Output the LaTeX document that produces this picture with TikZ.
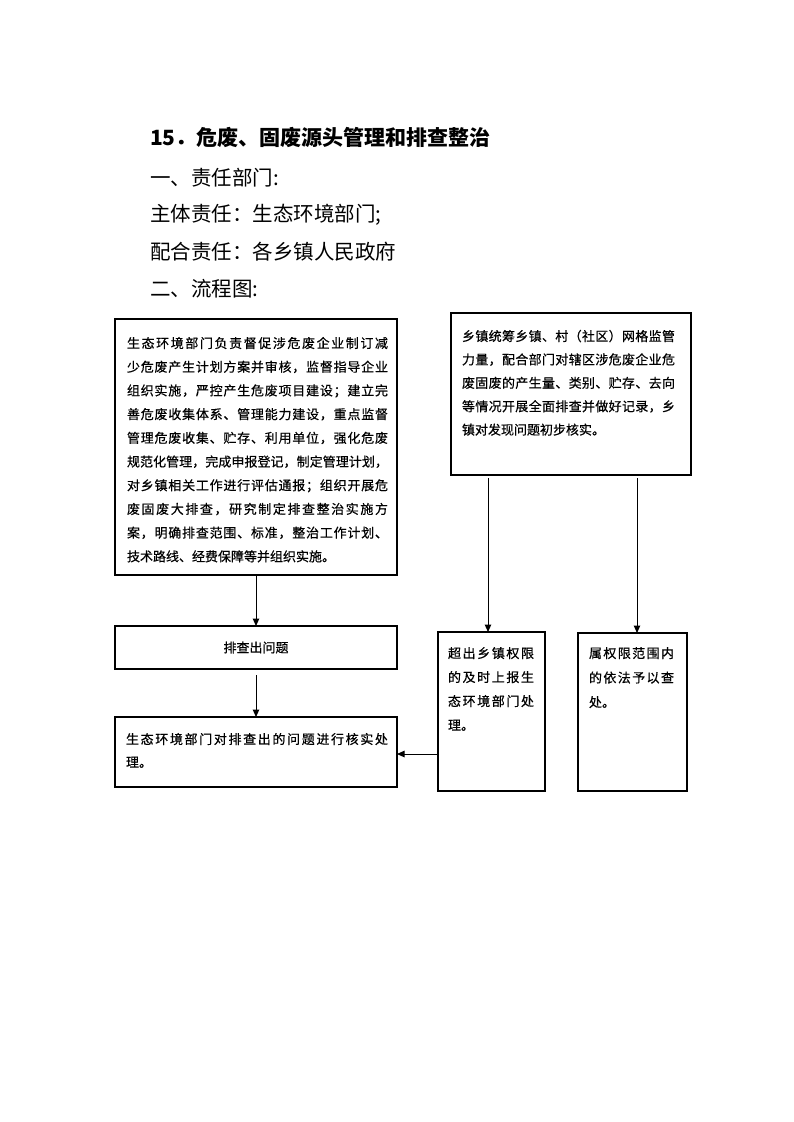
\documentclass[tikz,border=0pt]{standalone}
\usepackage{fontspec}
\setmainfont{Noto Sans CJK SC}
\newfontfamily\boxfont{Noto Sans CJK SC}[FakeBold=0.5]
\usetikzlibrary{arrows.meta}
\def\spreadEnd{SPREADEND}
\newcommand\spreadln[2]{\hbox to #1{\spreadA#2\spreadEnd}}
\def\spreadA#1{#1\spreadB}
\def\spreadB#1{\ifx#1\spreadEnd\else\hfil#1\expandafter\spreadB\fi}
\begin{document}
\begin{tikzpicture}[x=1pt,y=-1pt,
  box/.style={draw=black,line width=1.2pt,inner sep=0pt,outer sep=0pt,anchor=north west},
  txt/.style={inner sep=0pt,outer sep=0pt,anchor=base west},
  arr/.style={draw=black,line width=1pt,-{Triangle[length=7.5pt,width=6.5pt]}},
  head/.style={inner sep=0pt,outer sep=0pt,anchor=base west}]
\useasboundingbox[fill=white] (0,0) rectangle (794,1122);

% headings
\node[head,font=\fontsize{21pt}{24pt}\selectfont\bfseries] (t0) at (150,145) {15．危废、固废源头管理和排查整治};
\node[head,font=\fontsize{20.5pt}{24pt}\selectfont] (t1) at (150,185.6) {一、责任部门:};
\node[head,font=\fontsize{20.5pt}{24pt}\selectfont] (t2) at (150,221.6) {主体责任：生态环境部门;};
\node[head,font=\fontsize{20.5pt}{24pt}\selectfont] (t3) at (150,259.6) {配合责任：各乡镇人民政府};
\node[head,font=\fontsize{20.5pt}{24pt}\selectfont] (t4) at (150,296.6) {二、流程图:};

% boxes
\node[box,minimum width=282pt,minimum height=256pt] (A) at (115,319) {};
\node[box,minimum width=240pt,minimum height=162pt] (B) at (451,313) {};
\node[box,minimum width=282pt,minimum height=43pt,font=\boxfont\fontsize{13pt}{16pt}\selectfont] (P) at (115,626) {排查出问题};
\node[box,minimum width=282pt,minimum height=70pt] (C) at (115,717) {};
\node[box,minimum width=107pt,minimum height=159pt] (D) at (438,632) {};
\node[box,minimum width=109pt,minimum height=158pt] (E) at (578,633) {};

% box texts
\node[txt] (ta) at (127,348) {\parbox[t]{261pt}{\boxfont\fontsize{13pt}{23.7pt}\selectfont
\spreadln{261pt}{生态环境部门负责督促涉危废企业制订减}
\spreadln{261pt}{少危废产生计划方案并审核，监督指导企业}
\spreadln{261pt}{组织实施，严控产生危废项目建设；建立完}
\spreadln{261pt}{善危废收集体系、管理能力建设，重点监督}
\spreadln{261pt}{管理危废收集、贮存、利用单位，强化危废}
\spreadln{261pt}{规范化管理，完成申报登记，制定管理计划，}
\spreadln{261pt}{对乡镇相关工作进行评估通报；组织开展危}
\spreadln{261pt}{废固废大排查，研究制定排查整治实施方}
\spreadln{261pt}{案，明确排查范围、标准，整治工作计划、}
\hbox{技术路线、经费保障等并组织实施。}}};

\node[txt] (tb) at (462,341) {\parbox[t]{213pt}{\boxfont\fontsize{13pt}{23.4pt}\selectfont
\spreadln{213pt}{乡镇统筹乡镇、村（社区）网格监管}
\spreadln{213pt}{力量，配合部门对辖区涉危废企业危}
\spreadln{213pt}{废固废的产生量、类别、贮存、去向}
\spreadln{213pt}{等情况开展全面排查并做好记录，乡}
\hbox{镇对发现问题初步核实。}}};

\node[txt] (tc) at (126,744) {\parbox[t]{262pt}{\boxfont\fontsize{13pt}{23pt}\selectfont
\spreadln{262pt}{生态环境部门对排查出的问题进行核实处}
\hbox{理。}}};

\node[txt] (td) at (448,658) {\parbox[t]{86pt}{\boxfont\fontsize{13pt}{24pt}\selectfont
\spreadln{86pt}{超出乡镇权限}
\spreadln{86pt}{的及时上报生}
\spreadln{86pt}{态环境部门处}
\hbox{理。}}};

\node[txt] (te) at (589,658) {\parbox[t]{85pt}{\boxfont\fontsize{13pt}{24.5pt}\selectfont
\spreadln{85pt}{属权限范围内}
\spreadln{85pt}{的依法予以查}
\hbox{处。}}};

% connectors
\coordinate (xd) at (488,0);
\coordinate (xe) at (637,0);
\coordinate (hy) at (0,754);
\draw[arr] (A.south) -- (P.north);
\draw[arr,shorten <=6pt] (P.south) -- (C.north);
\draw[arr,shorten <=3pt] (B.south -| xd) -- (D.north -| xd);
\draw[arr,shorten <=3pt] (B.south -| xe) -- (E.north -| xe);
\draw[arr] (D.west |- hy) -- (C.east |- hy);
\end{tikzpicture}
\end{document}
